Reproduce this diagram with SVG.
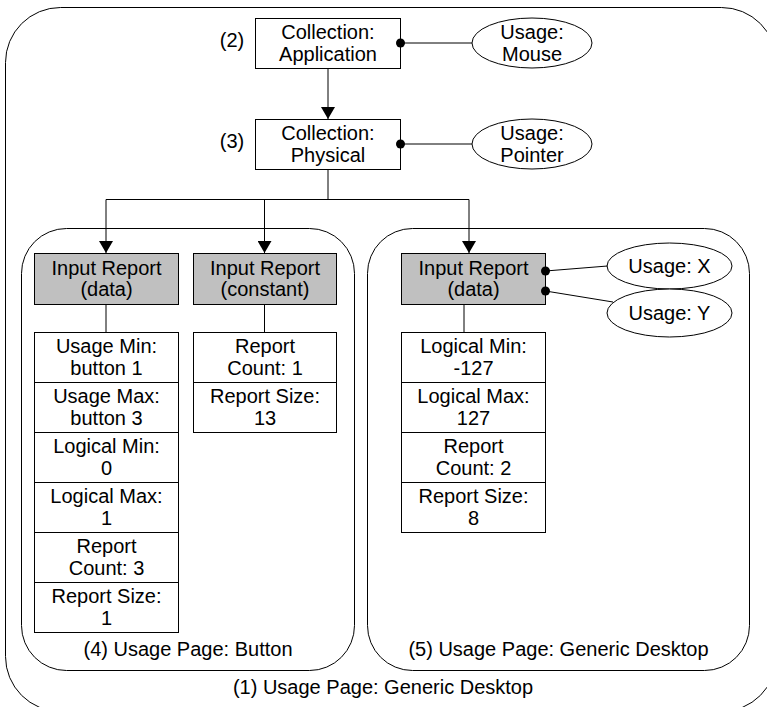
<svg xmlns="http://www.w3.org/2000/svg" width="767" height="707" viewBox="0 0 767 707">
<defs>
<style>
text{font-family:"Liberation Sans",Arial,sans-serif;font-size:20px;fill:#000;text-anchor:middle}
.box{fill:#fff;stroke:#000;stroke-width:1}
.gray{fill:#c0c0c0;stroke:#000;stroke-width:1}
.grp{fill:none;stroke:#000;stroke-width:1}
.ell{fill:#fff;stroke:#000;stroke-width:1}
.conn{fill:none;stroke:#000;stroke-width:1}
.arr{marker-end:url(#arrow)}
.dt{marker-start:url(#dot)}
</style>
<marker id="arrow" markerUnits="userSpaceOnUse" markerWidth="12" markerHeight="14" refX="12" refY="7" orient="auto" viewBox="0 0 12 14">
<path d="M0,0 L12,7 L0,14 z" fill="#000"/>
</marker>
<marker id="dot" markerUnits="userSpaceOnUse" markerWidth="10" markerHeight="10" refX="5" refY="5" viewBox="0 0 10 10">
<circle cx="5" cy="5" r="4.5" fill="#000"/>
</marker>
</defs>

<g id="page1">
<rect class="grp" x="5.5" y="7.5" width="771" height="704" rx="55" ry="55"/>
<text x="383" y="694">(1) Usage Page: Generic Desktop</text>
</g>
<g id="page4">
<rect class="grp" x="21.5" y="228.5" width="333" height="442" rx="45" ry="45"/>
<text x="188" y="656">(4) Usage Page: Button</text>
</g>
<g id="page5">
<rect class="grp" x="367.5" y="228.5" width="382" height="442" rx="45" ry="45"/>
<text x="558.5" y="656">(5) Usage Page: Generic Desktop</text>
</g>

<g id="n2">
<rect class="box" x="255.5" y="18.5" width="145" height="50"/>
<text x="328" y="38.5">Collection:</text>
<text x="328" y="60.5">Application</text>
<text x="232" y="47">(2)</text>
</g>
<g id="usage-mouse">
<ellipse class="ell" cx="532" cy="43" rx="60" ry="25"/>
<text x="532" y="38.5">Usage:</text>
<text x="532" y="60.5">Mouse</text>
</g>
<g id="n3">
<rect class="box" x="255.5" y="119.5" width="145" height="50"/>
<text x="328" y="139.5">Collection:</text>
<text x="328" y="161.5">Physical</text>
<text x="232" y="148">(3)</text>
</g>
<g id="usage-pointer">
<ellipse class="ell" cx="532" cy="144" rx="60" ry="25"/>
<text x="532" y="139.5">Usage:</text>
<text x="532" y="161.5">Pointer</text>
</g>

<g id="input-button-data">
<rect class="gray" x="34.5" y="253.5" width="144" height="51"/>
<text x="106.5" y="275">Input Report</text>
<text x="106.5" y="296">(data)</text>
</g>
<g id="button-fields">
<rect class="box" x="34.5" y="332.5" width="144" height="50"/>
<text x="106.5" y="353">Usage Min:</text>
<text x="106.5" y="374.5">button 1</text>
<rect class="box" x="34.5" y="382.5" width="144" height="50"/>
<text x="106.5" y="403">Usage Max:</text>
<text x="106.5" y="424.5">button 3</text>
<rect class="box" x="34.5" y="432.5" width="144" height="50"/>
<text x="106.5" y="453">Logical Min:</text>
<text x="106.5" y="474.5">0</text>
<rect class="box" x="34.5" y="482.5" width="144" height="50"/>
<text x="106.5" y="503">Logical Max:</text>
<text x="106.5" y="524.5">1</text>
<rect class="box" x="34.5" y="532.5" width="144" height="50"/>
<text x="106.5" y="553">Report</text>
<text x="106.5" y="574.5">Count: 3</text>
<rect class="box" x="34.5" y="582.5" width="144" height="50"/>
<text x="106.5" y="603">Report Size:</text>
<text x="106.5" y="624.5">1</text>
</g>

<g id="input-constant">
<rect class="gray" x="193.5" y="253.5" width="143" height="51"/>
<text x="265" y="275">Input Report</text>
<text x="265" y="296">(constant)</text>
</g>
<g id="constant-fields">
<rect class="box" x="193.5" y="332.5" width="143" height="50"/>
<text x="265" y="353">Report</text>
<text x="265" y="374.5">Count: 1</text>
<rect class="box" x="193.5" y="382.5" width="143" height="50"/>
<text x="265" y="403">Report Size:</text>
<text x="265" y="424.5">13</text>
</g>

<g id="input-desktop-data">
<rect class="gray" x="401.5" y="253.5" width="144" height="51"/>
<text x="473.5" y="275">Input Report</text>
<text x="473.5" y="296">(data)</text>
</g>
<g id="desktop-fields">
<rect class="box" x="401.5" y="332.5" width="144" height="50"/>
<text x="473.5" y="353">Logical Min:</text>
<text x="473.5" y="374.5">-127</text>
<rect class="box" x="401.5" y="382.5" width="144" height="50"/>
<text x="473.5" y="403">Logical Max:</text>
<text x="473.5" y="424.5">127</text>
<rect class="box" x="401.5" y="432.5" width="144" height="50"/>
<text x="473.5" y="453">Report</text>
<text x="473.5" y="474.5">Count: 2</text>
<rect class="box" x="401.5" y="482.5" width="144" height="50"/>
<text x="473.5" y="503">Report Size:</text>
<text x="473.5" y="524.5">8</text>
</g>
<g id="usage-x">
<ellipse class="ell" cx="669.5" cy="266" rx="62.5" ry="23"/>
<text x="669.5" y="273">Usage: X</text>
</g>
<g id="usage-y">
<ellipse class="ell" cx="669.5" cy="313" rx="62.5" ry="24"/>
<text x="669.5" y="320">Usage: Y</text>
</g>

<g id="connectors">
<path class="conn dt" d="M400.5,43 L472,43"/>
<path class="conn dt" d="M400.5,144 L472,144"/>
<path class="conn arr" d="M328,68.5 L328,119"/>
<path class="conn" d="M328,169.5 V199.5 M106,199.5 H469"/>
<path class="conn arr" d="M106,199.5 V253"/>
<path class="conn arr" d="M264.5,199.5 V253"/>
<path class="conn arr" d="M469,199.5 V253"/>
<path class="conn" d="M106,304.5 V332 M264.5,304.5 V332 M464,304.5 V332"/>
<path class="conn dt" d="M545.5,271 L607.5,266"/>
<path class="conn dt" d="M545.5,291 L613,302"/>
</g>
</svg>
